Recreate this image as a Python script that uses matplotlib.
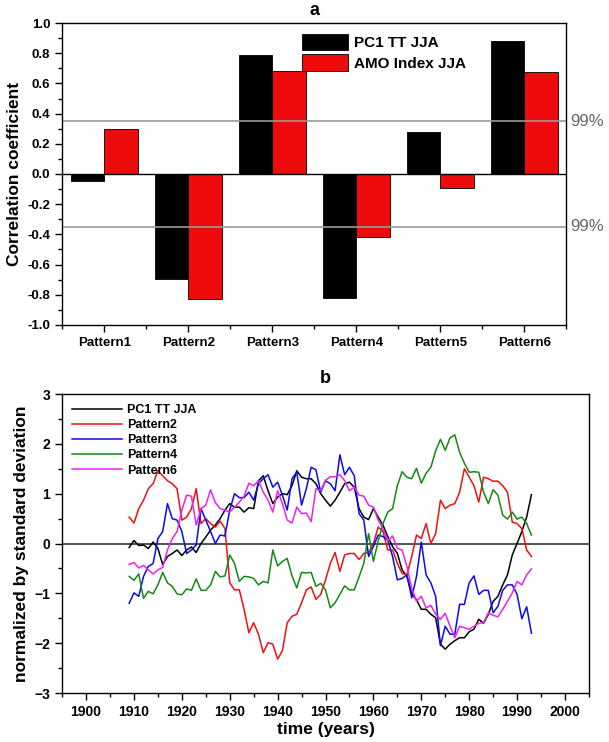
import numpy as np
import matplotlib
matplotlib.use("Agg")
import matplotlib.pyplot as plt
from matplotlib.ticker import MultipleLocator, FormatStrFormatter

plt.rcParams['font.family'] = ['Liberation Sans', 'DejaVu Sans']
plt.rcParams['font.weight'] = 'bold'

# ---- panel a data ----
patterns = ['Pattern1', 'Pattern2', 'Pattern3', 'Pattern4', 'Pattern5', 'Pattern6']
pc1_corr = [-0.045, -0.695, 0.79, -0.82, 0.28, 0.88]
amo_corr = [0.30, -0.825, 0.685, -0.42, -0.095, 0.675]
sig99 = 0.35

# ---- panel b data ----
years = list(range(1909, 1994))
pc1 = [-0.08, 0.06, -0.04, -0.03, -0.1, 0.03, -0.1, -0.42, -0.26, -0.2,
       -0.13, -0.24, -0.13, -0.07, -0.18, 0.0, 0.13, 0.27, 0.37, 0.5,
       0.67, 0.8, 0.73, 0.73, 0.63, 0.72, 0.7, 1.26, 1.36, 1.06,
       0.8, 0.93, 1.0, 0.98, 1.16, 1.46, 1.33, 1.3, 1.3, 1.2,
       1.0, 0.87, 0.75, 0.87, 1.03, 1.2, 1.23, 1.13, 0.7, 0.53,
       0.48, 0.7, 0.53, 0.37, 0.14, -0.06, -0.2, -0.53, -0.66, -1.0,
       -1.13, -1.32, -1.32, -1.42, -1.49, -2.02, -2.12, -2.02, -1.95, -1.89,
       -1.89, -1.77, -1.72, -1.52, -1.6, -1.42, -1.16, -1.06, -0.83, -0.63,
       -0.23, 0.0, 0.24, 0.53, 0.98]
pattern2 = [0.53, 0.41, 0.7, 0.87, 1.1, 1.2, 1.46, 1.36, 1.26, 1.2,
            1.1, 0.47, 0.53, 0.7, 1.1, 0.4, 0.5, 0.4, 0.33, 0.45,
            0.3, -0.79, -0.93, -0.93, -1.32, -1.79, -1.59, -1.82, -2.19, -1.99,
            -2.02, -2.32, -2.15, -1.59, -1.46, -1.42, -1.19, -0.93, -0.87, -1.12,
            -1.02, -0.73, -0.4, -0.18, -0.56, -0.23, -0.2, -0.2, -0.32, -0.2,
            -0.18, 0.0, 0.33, 0.24, -0.13, -0.13, -0.4, -0.6, -0.63, -0.26,
            0.17, 0.1, 0.4, 0.0, 0.2, 0.87, 0.7, 0.77, 0.8, 1.03,
            1.5, 1.33, 1.16, 0.83, 1.33, 1.3, 1.25, 1.25, 1.16, 1.03,
            0.43, 0.4, 0.3, -0.13, -0.26]
pattern3 = [-1.2, -0.99, -1.06, -0.66, -0.46, -0.4, 0.1, 0.24, 0.8, 0.5,
            0.47, 0.24, -0.2, -0.13, -0.03, 0.7, 0.47, 0.24, 0.0, 0.17,
            0.15, 0.67, 1.0, 0.92, 0.92, 1.03, 0.87, 1.2, 1.3, 1.38,
            1.13, 1.23, 0.97, 0.67, 1.3, 1.43, 0.77, 1.1, 1.53, 1.48,
            1.03, 1.26, 1.2, 1.06, 1.78, 1.38, 1.53, 1.36, 0.6, 0.47,
            -0.26, -0.06, 0.17, 0.14, 0.07, -0.26, -0.73, -0.7, -0.63, -1.09,
            -0.66, 0.03, -0.63, -0.79, -1.06, -2.05, -1.66, -1.82, -1.82, -1.22,
            -1.22, -0.79, -0.65, -1.02, -0.94, -0.94, -1.39, -1.26, -0.94, -0.83,
            -0.83, -1.02, -1.51, -1.27, -1.8]
pattern4 = [-0.66, -0.74, -0.61, -1.1, -0.96, -1.01, -0.83, -0.58, -0.79, -0.86,
            -1.01, -1.03, -0.91, -0.94, -0.71, -0.94, -0.94, -0.83, -0.56, -0.67,
            -0.65, -0.23, -0.4, -0.76, -0.66, -0.67, -0.7, -0.83, -0.76, -0.79,
            -0.13, -0.45, -0.36, -0.3, -0.65, -0.89, -0.58, -0.59, -0.58, -0.86,
            -0.8, -0.93, -1.29, -1.19, -1.02, -0.85, -0.93, -0.93, -0.67, -0.4,
            0.2, -0.36, 0.05, 0.4, 0.63, 0.7, 1.16, 1.44, 1.33, 1.3,
            1.51, 1.21, 1.41, 1.53, 1.86, 2.09, 1.87, 2.12, 2.18, 1.83,
            1.61, 1.43, 1.44, 1.43, 1.03, 0.8, 1.08, 0.97, 0.57, 0.49,
            0.63, 0.49, 0.53, 0.4, 0.17]
pattern6 = [-0.42, -0.38, -0.49, -0.44, -0.53, -0.61, -0.53, -0.48, -0.13, 0.1,
            0.24, 0.67, 0.97, 0.95, 0.37, 0.7, 0.77, 1.08, 0.82, 0.7,
            0.67, 0.63, 0.73, 0.83, 0.95, 1.21, 1.16, 1.26, 1.03, 0.87,
            0.63, 1.06, 0.8, 0.47, 0.41, 0.73, 0.6, 0.61, 0.44, 1.1,
            1.06, 1.27, 1.34, 1.34, 1.38, 1.26, 1.06, 1.13, 0.97, 0.95,
            0.77, 0.73, 0.47, 0.3, 0.05, 0.15, -0.1, -0.13, -0.46, -0.9,
            -1.16, -1.06, -1.29, -1.24, -1.42, -1.52, -1.4, -1.66, -1.89, -1.66,
            -1.69, -1.72, -1.66, -1.6, -1.59, -1.39, -1.44, -1.47, -1.32, -1.16,
            -0.99, -0.76, -0.83, -0.63, -0.51]

fig = plt.figure(figsize=(6.09, 7.42), dpi=100)

# ---------------- panel a ----------------
ax1 = fig.add_axes([0.102, 0.562, 0.828, 0.407])
x = np.arange(1, len(patterns) + 1)
w = 0.4
ax1.bar(x - w / 2, pc1_corr, w, color='black', edgecolor='black', linewidth=0.6, label='PC1 TT JJA')
ax1.bar(x + w / 2, amo_corr, w, color='#ee0b0b', edgecolor='black', linewidth=0.6, label='AMO Index JJA')
ax1.axhline(0, color='black', lw=1.0)
ax1.axhline(sig99, color='#999999', lw=1.2)
ax1.axhline(-sig99, color='#999999', lw=1.2)
ax1.text(1.008, sig99, '99%', transform=ax1.get_yaxis_transform(), color='#666666',
         fontsize=12, fontweight='normal', va='center', ha='left')
ax1.text(1.008, -sig99, '99%', transform=ax1.get_yaxis_transform(), color='#666666',
         fontsize=12, fontweight='normal', va='center', ha='left')
ax1.set_xlim(0.5, 6.5)
ax1.set_ylim(-1.0, 1.0)
ax1.set_xticks(x)
ax1.set_xticklabels(patterns)
ax1.set_xticks(np.arange(0.5, 7, 1), minor=True)
ax1.yaxis.set_major_locator(MultipleLocator(0.2))
ax1.yaxis.set_minor_locator(MultipleLocator(0.1))
ax1.yaxis.set_major_formatter(FormatStrFormatter('%.1f'))
ax1.tick_params(which='both', direction='out', labelsize=9.5, width=1.0)
ax1.tick_params(which='major', length=5)
ax1.tick_params(which='minor', length=3)
ax1.set_ylabel('Correlation coefficient', fontsize=12.5, fontweight='bold')
ax1.set_title('a', fontsize=13, fontweight='bold', pad=6)
for s in ax1.spines.values():
    s.set_linewidth(1.0)
ax1.legend(loc='upper left', bbox_to_anchor=(0.455, 1.0), frameon=False,
           fontsize=11, handlelength=3.0, handleheight=1.3, handletextpad=0.4,
           labelspacing=0.25, borderaxespad=0.3)

# ---------------- panel b ----------------
ax2 = fig.add_axes([0.102, 0.066, 0.865, 0.403])
ax2.plot(years, pc1, color='black', lw=1.1, label='PC1 TT JJA')
ax2.plot(years, pattern2, color='#ee1111', lw=1.1, label='Pattern2')
ax2.plot(years, pattern3, color='#0a0aee', lw=1.1, label='Pattern3')
ax2.plot(years, pattern4, color='#138a13', lw=1.1, label='Pattern4')
ax2.plot(years, pattern6, color='#ee22ee', lw=1.1, label='Pattern6')
ax2.axhline(0, color='#333333', lw=1.2, zorder=0)
ax2.set_xlim(1895, 2005)
ax2.set_ylim(-3, 3)
ax2.xaxis.set_major_locator(MultipleLocator(10))
ax2.xaxis.set_minor_locator(MultipleLocator(5))
ax2.yaxis.set_major_locator(MultipleLocator(1))
ax2.yaxis.set_minor_locator(MultipleLocator(0.5))
ax2.tick_params(which='both', direction='out', labelsize=10, width=1.0)
ax2.tick_params(which='major', length=5)
ax2.tick_params(which='minor', length=3)
ax2.set_xlabel('time (years)', fontsize=12.5, fontweight='bold', labelpad=2)
ax2.set_ylabel('normalized by standard deviation', fontsize=12.5, fontweight='bold')
ax2.set_title('b', fontsize=13, fontweight='bold', pad=8)
for s in ax2.spines.values():
    s.set_linewidth(1.0)
ax2.legend(loc='upper left', frameon=False, fontsize=9, handlelength=4.0,
           handletextpad=0.4, labelspacing=0.25, borderaxespad=0.4)

fig.savefig('out.png', dpi=100)
